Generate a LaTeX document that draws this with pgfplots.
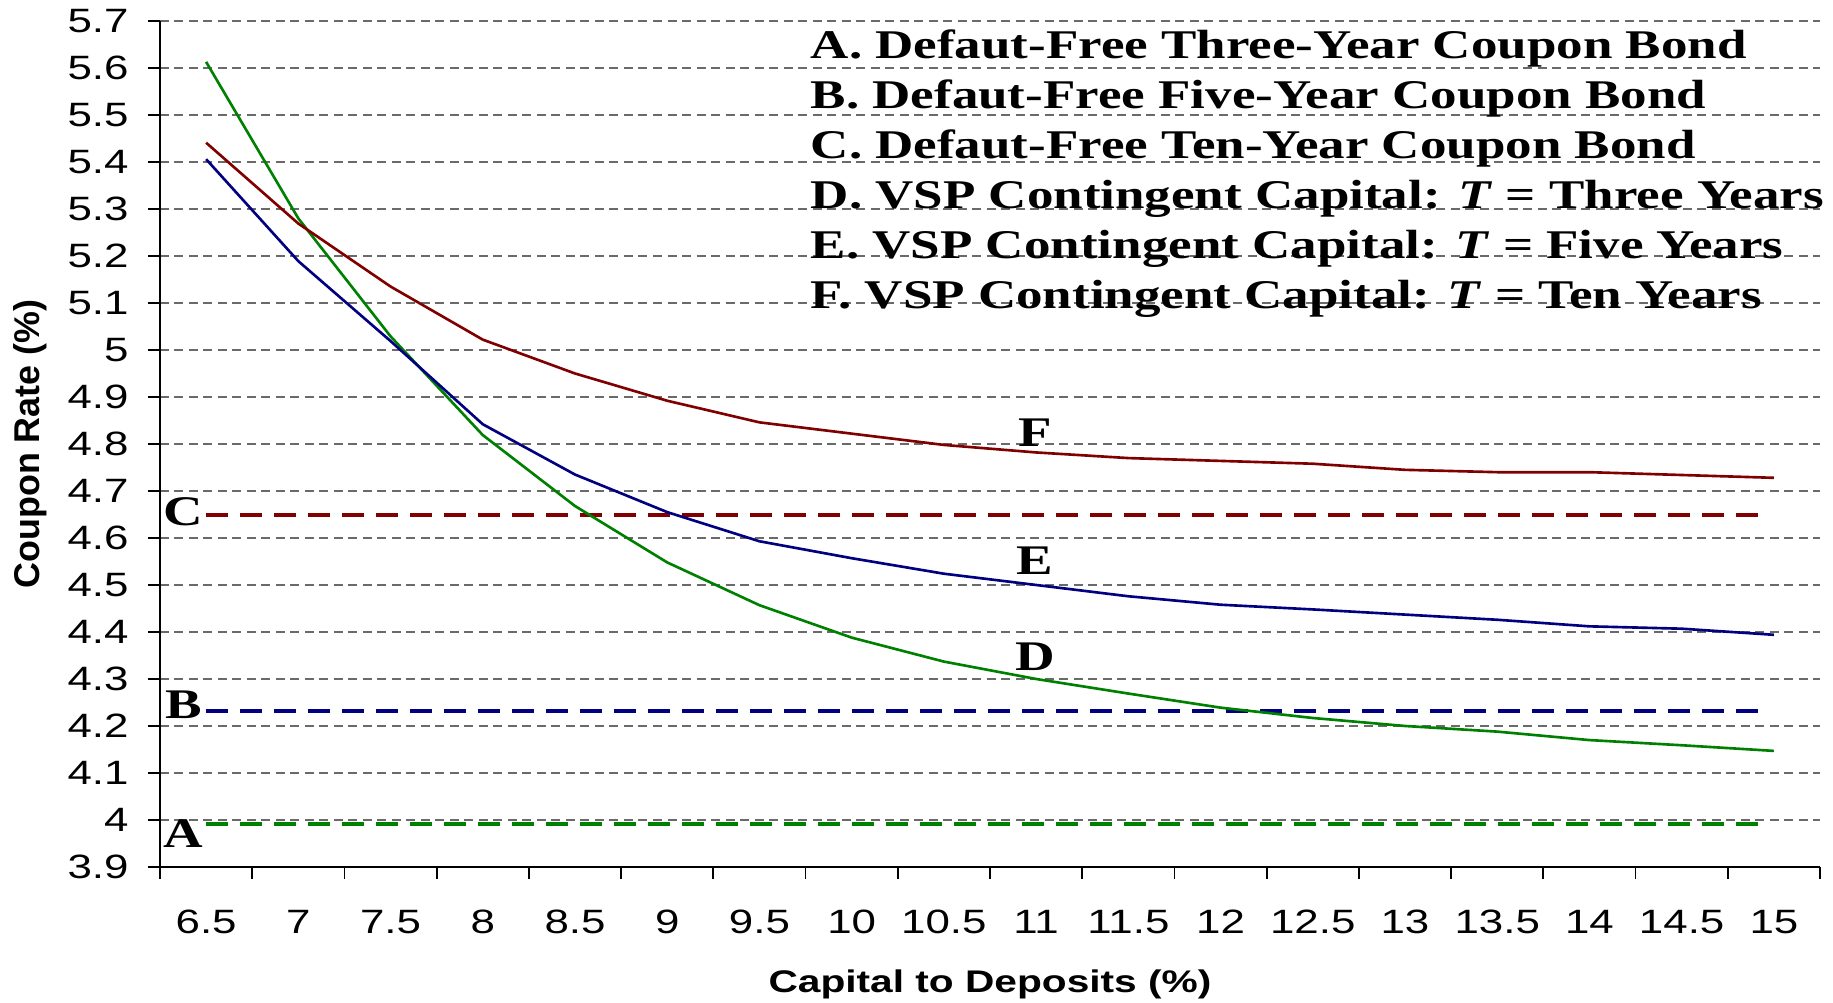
\documentclass[border=0pt]{standalone}
\usepackage{fontspec}
\usepackage{pgfplots}
\usepackage{pgfplotstable}
\pgfplotsset{compat=1.18}
\newfontfamily\arialx{Liberation Sans}[FakeStretch=1.3]
\newfontfamily\arialn{Liberation Sans}
\newfontfamily\timesx{Liberation Serif}[FakeStretch=1.3]
\definecolor{curveRed}{HTML}{800000}
\definecolor{curveBlue}{HTML}{000080}
\definecolor{curveGreen}{HTML}{008000}
\definecolor{gridGray}{HTML}{6A6A6A}

% idx 0..17 stands for capital to deposits 6.5, 7, ..., 15
\pgfplotstableread{
idx F     E     D
0   5.441 5.406 5.613
1   5.269 5.189 5.280
2   5.135 5.019 5.029
3   5.022 4.842 4.819
4   4.950 4.735 4.668
5   4.892 4.655 4.548
6   4.846 4.593 4.457
7   4.822 4.557 4.388
8   4.798 4.524 4.337
9   4.782 4.500 4.300
10  4.770 4.476 4.269
11  4.764 4.458 4.239
12  4.758 4.448 4.217
13  4.745 4.437 4.200
14  4.740 4.426 4.188
15  4.740 4.412 4.170
16  4.734 4.407 4.159
17  4.728 4.394 4.147
}\couponTable

% flat default-free bond rates (drawn across the category range)
\pgfplotstableread{
idx   A     B     C
0     3.992 4.231 4.648
16.87 3.992 4.231 4.648
}\bondTable

\begin{document}
\begin{tikzpicture}
\path[use as bounding box] (-16mm,-13.6mm) rectangle (167.3mm,86.7mm);
\begin{axis}[
  scale only axis, width=166mm, height=84.6mm,
  xmin=-0.5, xmax=17.5, ymin=3.9, ymax=5.7,
  clip=false,
  axis x line*=bottom, axis y line*=left,
  axis line style={-, black, line width=0.6pt},
  xtick={-0.5,0.5,...,17.5},
  x tick label as interval,
  xticklabels={6.5,7,7.5,8,8.5,9,9.5,10,10.5,11,11.5,12,12.5,13,13.5,14,14.5,15},
  ytick={3.9,4.0,4.1,4.2,4.3,4.4,4.5,4.6,4.7,4.8,4.9,5.0,5.1,5.2,5.3,5.4,5.5,5.6,5.7},
  yticklabel style={/pgf/number format/fixed, /pgf/number format/precision=1, xshift=-0.7mm},
  xticklabel style={yshift=-1.9mm},
  /pgf/number format/assume math mode=true,
  ticklabel style={font=\arialx\fontsize{9.6}{11}\selectfont, text=black},
  tick align=outside, major tick length=1.2mm,
  tick style={black, line width=0.5pt},
  ymajorgrids,
  grid style={gridGray, line width=0.5pt, dash pattern=on 0.9mm off 0.55mm},
  xlabel={Capital to Deposits (\%)},
  ylabel={Coupon Rate (\%)},
  xlabel style={font=\arialx\bfseries\fontsize{8.9}{11}\selectfont,
    at={(axis description cs:0.5,-0.107)}, anchor=north},
  ylabel style={font=\arialn\bfseries\fontsize{10.2}{12}\selectfont,
    at={(axis description cs:-0.0605,0.5)}, anchor=south},
]
\addplot[curveGreen, line width=1.1pt, dash pattern=on 2.2mm off 1.2mm] table[x=idx, y=A] {\bondTable};
\addplot[curveBlue, line width=1.1pt, dash pattern=on 2.2mm off 1.2mm] table[x=idx, y=B] {\bondTable};
\addplot[curveRed, line width=1.1pt, dash pattern=on 2.2mm off 1.2mm] table[x=idx, y=C] {\bondTable};
\addplot[curveGreen, line width=0.75pt] table[x=idx, y=D] {\couponTable};
\addplot[curveBlue, line width=0.75pt] table[x=idx, y=E] {\couponTable};
\addplot[curveRed, line width=0.75pt] table[x=idx, y=F] {\couponTable};

\begin{scope}[every node/.style={font=\timesx\bfseries\fontsize{12}{14}\selectfont, inner sep=0pt}]
\node at (axis cs:-0.245,3.971) {A};
\node at (axis cs:-0.245,4.245) {B};
\node at (axis cs:-0.245,4.655) {C};
\node at (axis cs:8.986,4.347) {D};
\node at (axis cs:8.986,4.551) {E};
\node at (axis cs:8.986,4.824) {F};
\end{scope}

\node[anchor=north west, align=left, inner sep=0pt,
  font=\timesx\bfseries\fontsize{11.6}{14.23}\selectfont]
  at (axis description cs:0.3916,0.9905)
  {A. Defaut-Free Three-Year Coupon Bond\\
   B. Defaut-Free Five-Year Coupon Bond\\
   C. Defaut-Free Ten-Year Coupon Bond\\
   D. VSP Contingent Capital: \textit{T} = Three Years\\
   E. VSP Contingent Capital: \textit{T} = Five Years\\
   F. VSP Contingent Capital: \textit{T} = Ten Years};
\end{axis}
\end{tikzpicture}
\end{document}
